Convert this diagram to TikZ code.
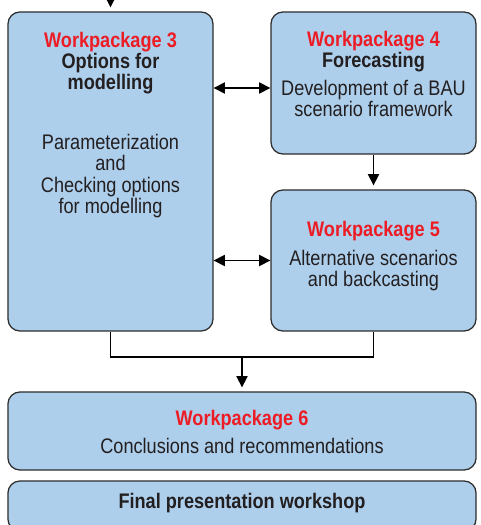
\documentclass[tikz,border=0pt]{standalone}
\usepackage{fontspec}
\setmainfont{Liberation Sans}[FakeStretch=0.86]
\usetikzlibrary{arrows.meta,positioning,calc}
\definecolor{wpblue}{RGB}{173,207,236}
\definecolor{wpred}{RGB}{237,28,36}
\definecolor{wpgrey}{RGB}{35,31,32}
\definecolor{wpline}{RGB}{45,45,45}

\begin{document}
\begin{tikzpicture}[x=0.025cm,y=-0.025cm,line width=0.9pt,
   wpbox/.style={draw=wpline,fill=wpblue,rounded corners=0.3cm,inner sep=0pt},
   wptitle/.style={text=wpgrey,font=\fontsize{15}{15}\selectfont\bfseries,align=center,inner sep=0pt},
   wptext/.style={text=wpgrey,font=\fontsize{15}{15}\selectfont,align=center,inner sep=0pt},
   arr/.style={draw=black,-{Triangle[length=2.8mm,width=2.8mm]},shorten >=1mm},
   darr/.style={draw=black,{Triangle[length=2.8mm,width=2.8mm]}-{Triangle[length=2.8mm,width=2.8mm]}}]

   \useasboundingbox (0,0) rectangle (480,525);
   \clip (0,0) rectangle (480,525);

   % boxes
   \node[wpbox,minimum width=5.125cm,minimum height=7.975cm] (wp3) at (110.5,171.5) {};
   \node[wpbox,minimum width=5.125cm,minimum height=3.55cm]  (wp4) at (373.5,83) {};
   \node[wpbox,minimum width=5.125cm,minimum height=3.525cm] (wp5) at (373.5,260.5) {};
   \node[wpbox,minimum width=11.7cm,minimum height=1.95cm]   (wp6) at (242,431) {};
   \node[wpbox,minimum width=11.7cm,minimum height=1.25cm]   (fin) at (242,506) {};

   % texts
   \node[wptitle] (wp3head) at (110.5,63) {{\color{wpred}Workpackage 3}\\Options for\\modelling};
   \node[wptext]  (wp3body) at (110.5,176) {Parameterization\\and\\Checking options\\for modelling};
   \node[wptitle] (wp4head) at (373.5,52) {{\color{wpred}Workpackage 4}\\Forecasting};
   \node[wptext]  (wp4body) at (373.5,98.5) {Development of a BAU\\scenario framework};
   \node[wptitle] (wp5head) at (373.5,231) {\color{wpred}Workpackage 5};
   \node[wptext]  (wp5body) at (373.5,270.5) {Alternative scenarios\\and backcasting};
   \node[wptitle] (wp6head) at (242,420) {\color{wpred}Workpackage 6};
   \node[wptext]  (wp6body) at (242,446) {Conclusions and recommendations};
   \node[wptitle] (finhead) at (242,503) {Final presentation workshop};

   % connectors
   \coordinate (entry) at (110.5,-30);
   \coordinate (merge) at (242,357);
   \draw[arr] (entry) -- (wp3.north);
   \draw[darr] (wp3.east |- 0,88) -- (wp4.west |- 0,88);
   \draw[darr] (wp3.east |- wp5.west) -- (wp5.west);
   \draw[arr] (wp4.south) -- (wp5.north);
   \draw (wp3.south) |- (merge) -| (wp5.south);
   \draw[arr] (merge) -- (wp6.north);

\end{tikzpicture}
\end{document}
